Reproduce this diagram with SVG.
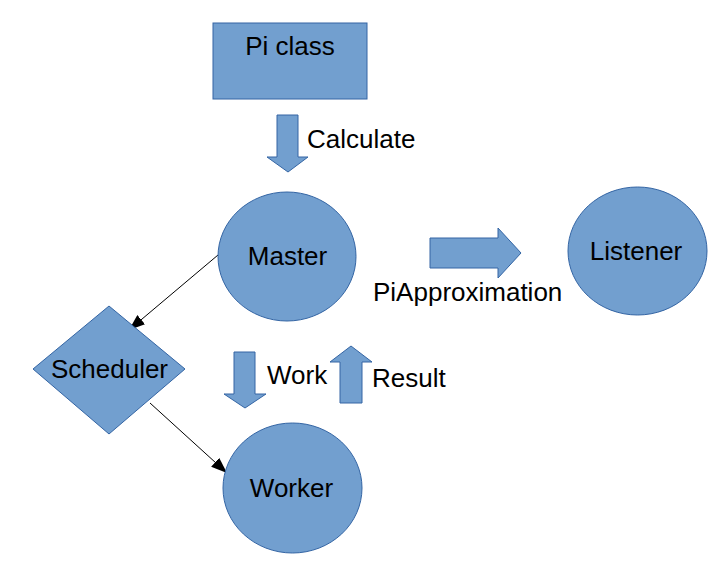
<svg xmlns="http://www.w3.org/2000/svg" width="728" height="576" viewBox="0 0 728 576">
<style>
.shape{fill:#729fcf;stroke:#3465a4;stroke-width:1}
.t{font-family:"Liberation Sans",Arial,sans-serif;font-size:26px;fill:#000}
.c{text-anchor:middle}
.line{stroke:#000;stroke-width:1;fill:none}
</style>
<defs>
<marker id="ah" viewBox="0 0 16 12" refX="16" refY="6" markerWidth="16" markerHeight="12" markerUnits="userSpaceOnUse" orient="auto">
<path d="M0,0 L16,6 L0,12 Z" fill="#000"/>
</marker>
</defs>
<rect width="728" height="576" fill="#fff"/>
<g id="connectors">
<line class="line" x1="218" y1="255" x2="129" y2="330" marker-end="url(#ah)"/>
<line class="line" x1="150" y1="403" x2="227" y2="473" marker-end="url(#ah)"/>
<polygon id="calc-arrow" class="shape" points="277,115 298,115 298,157 308,157 288,172 267,157 277,157"/>
<polygon id="work-arrow" class="shape" points="234,352 255,352 255,394 266,394 245,408 224,394 234,394"/>
<polygon id="result-arrow" class="shape" points="340,403 362,403 362,362 372,362 351,346 330,362 340,362"/>
<polygon id="piapprox-arrow" class="shape" points="430,238 498,238 498,228 521,253 498,278 498,268 430,268"/>
<text class="t" x="307" y="148">Calculate</text>
<text class="t" x="267" y="384">Work</text>
<text class="t" x="372" y="387">Result</text>
<text class="t" x="373" y="301">PiApproximation</text>
</g>
<g id="pi-class">
<rect class="shape" x="213" y="23" width="154" height="76"/>
<text class="t c" x="290" y="55">Pi class</text>
</g>
<g id="master">
<ellipse class="shape" cx="287" cy="256.5" rx="69" ry="64.5"/>
<text class="t c" x="287.5" y="265">Master</text>
</g>
<g id="listener">
<ellipse class="shape" cx="637.5" cy="251" rx="69.5" ry="64"/>
<text class="t c" x="636" y="260">Listener</text>
</g>
<g id="scheduler">
<polygon class="shape" points="109,306 185,369 109,434 33,369"/>
<text class="t c" x="109.5" y="378">Scheduler</text>
</g>
<g id="worker">
<ellipse class="shape" cx="292.5" cy="488" rx="69.5" ry="65"/>
<text class="t c" x="291.5" y="497">Worker</text>
</g>
</svg>
